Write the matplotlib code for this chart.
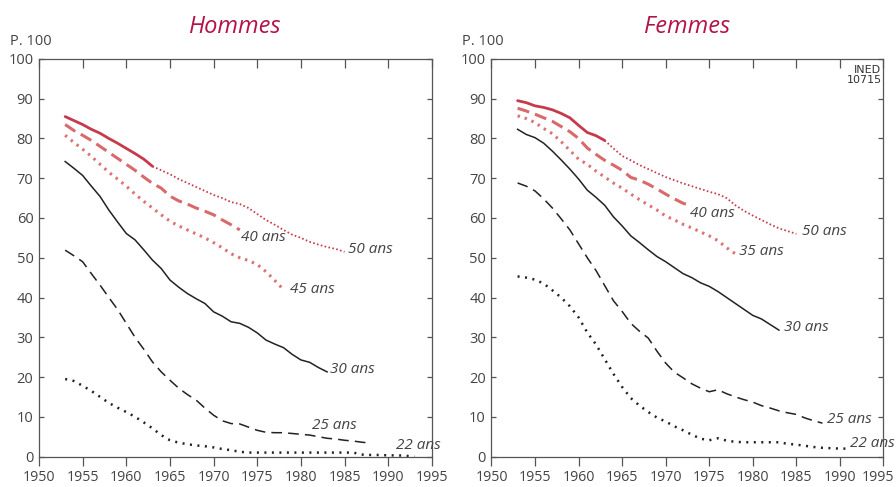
import numpy as np
import matplotlib
matplotlib.use("Agg")
import matplotlib.pyplot as plt
from matplotlib.transforms import ScaledTranslation

plt.rcParams["font.family"] = ["Open Sans", "DejaVu Sans"]

# ------------------------
# Data: proportion célibataire (p. 100) par année et âge
# ------------------------
years = list(range(1953, 1994))
x_ticks = list(range(1950, 1996, 5))

# Hommes
h_50 = [85.5, 84.5, 83.5, 82.3, 81.3, 80.0, 78.8, 77.5, 76.2, 74.8, 73.0,
        72.0, 71.0, 69.8, 68.8, 67.8, 66.8, 65.8, 65.0, 64.0, 63.5, 62.5,
        61.0, 59.5, 58.3, 57.0, 55.8, 55.0, 54.0, 53.3, 52.7, 52.2, 51.5]
h_40 = [83.5, 82.0, 80.8, 79.5, 78.0, 76.5, 75.0, 73.5, 72.0, 70.3, 68.7,
        67.5, 65.5, 64.3, 63.5, 62.5, 61.7, 60.8, 59.5, 58.3, 57.0]
h_45 = [80.8, 79.0, 77.3, 75.5, 73.5, 71.5, 69.8, 68.0, 66.0, 64.2, 62.5,
        60.8, 59.2, 58.0, 57.0, 56.0, 55.0, 53.8, 52.5, 51.0, 50.0, 49.3,
        48.3, 46.5, 44.3, 42.0]
h_30 = [74.2, 72.5, 70.7, 68.0, 65.4, 62.0, 59.0, 56.1, 54.5, 52.0, 49.4,
        47.3, 44.4, 42.6, 41.0, 39.7, 38.5, 36.4, 35.3, 33.9, 33.5, 32.5,
        31.1, 29.3, 28.3, 27.4, 25.7, 24.3, 23.7, 22.4, 21.3]
h_25 = [51.9, 50.5, 49.0, 46.0, 43.1, 40.0, 37.0, 33.5, 30.0, 27.0, 23.8,
        21.3, 19.2, 17.2, 15.6, 14.2, 12.2, 10.4, 9.0, 8.3, 8.2, 7.4,
        6.6, 6.1, 6.0, 6.0, 5.8, 5.6, 5.4, 5.0, 4.6, 4.4, 4.1, 3.9, 3.6, 3.4]
h_22 = [19.5, 19.0, 17.8, 16.5, 15.0, 13.5, 12.3, 11.2, 10.0, 8.6, 7.1,
        5.4, 4.1, 3.5, 3.1, 2.8, 2.6, 2.3, 1.9, 1.6, 1.2, 1.0, 1.0, 1.0,
        1.0, 1.0, 1.0, 1.0, 1.0, 1.0, 1.0, 1.0, 1.0, 1.0, 0.5, 0.4, 0.4,
        0.3, 0.3, 0.2, 0.0]

# Femmes
f_50 = [89.5, 89.0, 88.2, 87.8, 87.2, 86.3, 85.2, 83.3, 81.5, 80.7, 79.5,
        77.5, 75.6, 74.5, 73.3, 72.3, 71.3, 70.3, 69.5, 68.7, 68.0, 67.3,
        66.6, 66.0, 65.0, 63.2, 61.8, 60.6, 59.5, 58.4, 57.4, 56.7, 56.0]
f_40 = [87.6, 86.9, 86.1, 85.2, 84.3, 83.0, 81.7, 80.0, 77.6, 76.0, 74.5,
        73.3, 72.0, 70.2, 69.5, 68.5, 67.3, 66.0, 64.8, 63.7, 63.0]
f_35 = [85.7, 85.0, 84.0, 82.5, 81.2, 79.2, 77.0, 74.8, 73.5, 71.8, 70.3,
        68.8, 67.5, 66.0, 64.6, 63.3, 62.0, 60.5, 59.5, 58.4, 57.5, 56.5,
        55.5, 54.3, 52.5, 51.0]
f_30 = [82.3, 81.0, 80.2, 78.8, 76.8, 74.6, 72.3, 69.8, 67.0, 65.2, 63.2,
        60.3, 58.0, 55.5, 53.8, 52.0, 50.3, 49.0, 47.5, 46.0, 45.0, 43.7,
        42.8, 41.5, 40.0, 38.5, 37.0, 35.5, 34.6, 33.2, 31.8]
f_25 = [68.8, 68.0, 66.8, 64.8, 62.5, 59.8, 57.0, 53.5, 50.0, 46.8, 43.0,
        39.2, 36.5, 33.5, 31.5, 29.8, 26.5, 23.5, 21.2, 19.8, 18.3, 17.2,
        16.3, 16.8, 15.8, 15.0, 14.3, 13.7, 12.8, 12.2, 11.5, 11.0, 10.6,
        9.7, 9.0, 8.4]
f_22 = [45.3, 45.0, 44.5, 43.5, 41.8, 40.0, 37.8, 35.0, 31.2, 28.2, 24.5,
        20.8, 17.5, 14.7, 12.8, 11.2, 9.8, 8.8, 7.6, 6.6, 5.5, 4.5, 4.1,
        4.6, 4.0, 3.7, 3.6, 3.6, 3.6, 3.6, 3.6, 3.2, 3.0, 2.7, 2.4, 2.2,
        2.1, 2.0, 2.0]

# Étiquettes des courbes : (texte, année, valeur)
h_labels = [("50 ans", 1985.4, 52.0), ("40 ans", 1973.1, 55.2),
            ("45 ans", 1978.7, 41.9), ("30 ans", 1983.3, 22.0),
            ("25 ans", 1981.3, 7.7), ("22 ans", 1990.9, 2.9)]
f_labels = [("50 ans", 1985.6, 56.5), ("40 ans", 1972.8, 61.2),
            ("35 ans", 1978.4, 51.5), ("30 ans", 1983.6, 32.5),
            ("25 ans", 1988.5, 9.2), ("22 ans", 1991.2, 3.4)]

RED_SOLID = "#c63a4c"
RED_DASH = "#d96a6c"
RED_DOT = "#dd7274"
TITLE_RED = "#b3134a"
GREY = "#444444"
AXIS = "#555555"


def draw_panel(ax, title, s50, s40, smid, s30, s25, s22, labels):
    x = years
    # 50 ans : trait plein jusqu'en 1963, pointillé fin ensuite
    ax.plot(x[:11], s50[:11], color=RED_SOLID, lw=2.0, solid_capstyle="round")
    ax.plot(x[10:len(s50)], s50[10:], color=RED_SOLID, lw=1.3,
            linestyle=(0, (0.9, 1.3)))
    ax.plot(x[:len(s40)], s40, color=RED_DASH, lw=2.2, linestyle=(0, (4, 2)))
    ax.plot(x[:len(smid)], smid, color=RED_DOT, lw=2.2,
            linestyle=(0, (0.8, 1.6)))
    ax.plot(x[:len(s30)], s30, color="#222222", lw=1.1)
    ax.plot(x[:len(s25)], s25, color="#222222", lw=1.1,
            linestyle=(0, (7, 4)))
    ax.plot(x[:len(s22)], s22, color="#222222", lw=1.8,
            linestyle=(0, (0.8, 2.2)))

    for txt, xx, yy in labels:
        ax.text(xx, yy, txt, style="italic", fontsize=11, color=GREY,
                ha="left", va="center", clip_on=False)

    ax.set_xlim(1950, 1995)
    ax.set_ylim(0, 100)
    ax.set_xticks(x_ticks)
    ax.set_yticks(range(0, 101, 10))
    ax.tick_params(axis="x", direction="out", length=6.5, width=0.9,
                   color=AXIS, labelsize=10.2, labelcolor=GREY, pad=3)
    ax.tick_params(axis="y", direction="in", length=3.8, width=0.9,
                   color=AXIS, labelsize=10.5, labelcolor=GREY, pad=4,
                   right=True)
    for sp in ax.spines.values():
        sp.set_color(AXIS)
        sp.set_linewidth(0.9)

    # graduations du haut, tournées vers l'intérieur (x en années, y en axes)
    ax.vlines(x_ticks, 0.977, 1.0, transform=ax.get_xaxis_transform(),
              colors=AXIS, linewidth=0.9, clip_on=False, zorder=3)

    ax.set_title(title, style="italic", fontsize=17, color=TITLE_RED, pad=19)
    ax.text(-0.075, 1.045, "P. 100", transform=ax.transAxes, fontsize=10.5,
            color=GREY, ha="left", va="center")


fig = plt.figure(figsize=(8.96, 4.87), dpi=100)
ax1 = fig.add_axes([0.0435, 0.0625, 0.4385, 0.8165])
ax2 = fig.add_axes([0.5485, 0.0625, 0.4375, 0.8165])

draw_panel(ax1, "Hommes", h_50, h_40, h_45, h_30, h_25, h_22, h_labels)
draw_panel(ax2, "Femmes", f_50, f_40, f_35, f_30, f_25, f_22, f_labels)

# le dernier millésime du panneau droit, un peu rentré pour rester dans l'image
last = ax2.get_xticklabels()[-1]
last.set_transform(last.get_transform()
                   + ScaledTranslation(-4 / 72, 0, fig.dpi_scale_trans))

ax2.text(0.995, 0.985, "INED\n10715", transform=ax2.transAxes, fontsize=8,
         family=["Liberation Sans Narrow", "DejaVu Sans"],
         color="#333333", ha="right", va="top", linespacing=1.0)

fig.savefig("out.png", dpi=100)
